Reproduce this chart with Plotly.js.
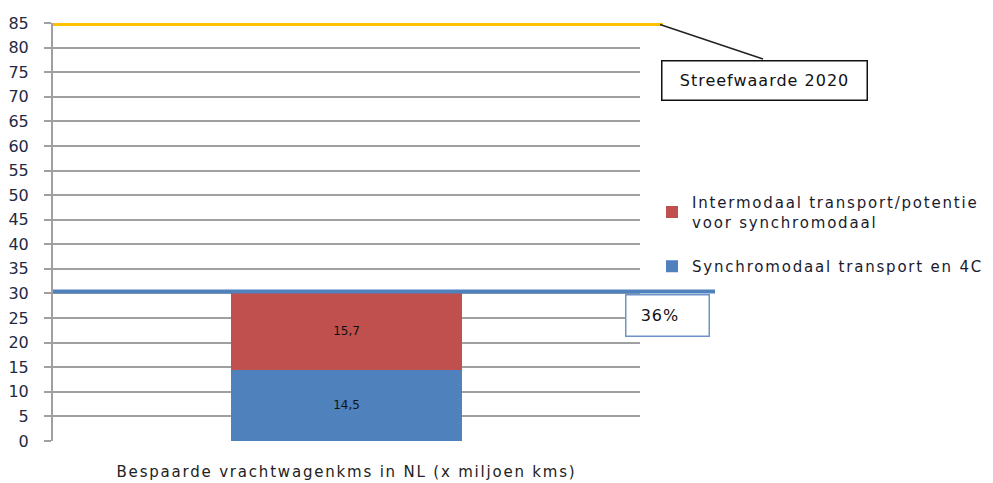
<!DOCTYPE html>
<html><head><meta charset="utf-8">
<script src="https://cdn.plot.ly/plotly-3.0.1.min.js"></script>
<style>body{margin:0;background:#fff}#c{width:993px;height:483px}
.xtick text{letter-spacing:1.8px}
.legendtext{letter-spacing:1.8px}
.annotation-text{letter-spacing:1px}
</style>
</head><body><div id="c"></div>
<script>
var categories = ["Bespaarde vrachtwagenkms in NL (x miljoen kms)"];
var synchroValues = [14.5];
var intermodaalValues = [15.7];
var valueLabels = ["14,5", "15,7"];
var targetValue = [84.7];
var currentLevel = [30.4];
var seriesNames = ["Synchromodaal transport en 4C", "Intermodaal transport/potentie<br>voor synchromodaal"];
var yMax = 85;
var tickVals = [0,5,10,15,20,25,30,35,40,45,50,55,60,65,70,75,80,85];

var font = "'DejaVu Sans', Verdana, sans-serif";
var traces = [
  {type:'bar', x:categories, y:synchroValues, name:seriesNames[0], legendgroup:'b', legendrank:2, marker:{color:'#4f81bd'},
   text:[valueLabels[0]], textposition:'inside', insidetextanchor:'middle',
   textfont:{color:'#111', size:12, family:font}, width:0.395},
  {type:'bar', x:categories, y:intermodaalValues, name:seriesNames[1], legendgroup:'a', legendrank:1, marker:{color:'#c0504d'},
   text:[valueLabels[1]], textposition:'inside', insidetextanchor:'middle',
   textfont:{color:'#111', size:12, family:font}, width:0.395}
];
var W = 587, L = 53, H = 418;
function px(x){ return (x - L)/W; }
var layout = {
  width:993, height:483,
  margin:{l:53, r:353, t:23, b:42, autoexpand:false},
  barmode:'stack', showlegend:true,
  paper_bgcolor:'#fff', plot_bgcolor:'#fff',
  font:{family:font, size:14, color:'#1a1a2e'},
  xaxis:{type:'category', showgrid:false, zeroline:false, showline:false, ticks:'',
    tickfont:{size:15, color:'#222'}, ticklabelstandoff:20, fixedrange:true},
  yaxis:{range:[0,yMax], tickvals:tickVals, showgrid:true, gridcolor:'#a0a0a0', gridwidth:2,
    zeroline:false, showline:true, linecolor:'#a0a0a0', linewidth:2, ticks:'outside', ticklen:7,
    tickcolor:'#a0a0a0', tickwidth:2, tickfont:{size:16, color:'#1f2a44'}, ticklabelstandoff:12},
  legend:{x:px(652), y:(441-186)/H, xanchor:'left', yanchor:'top', traceorder:'grouped', itemwidth:30,
    font:{size:15, color:'#1a1a2e'}, tracegroupgap:22, bgcolor:'rgba(0,0,0,0)'},
  shapes:[
    {type:'line', xref:'paper', yref:'paper', x0:0, x1:px(663), y0:targetValue[0]/yMax, y1:targetValue[0]/yMax,
     line:{color:'#ffc000', width:3}},
    {type:'line', xref:'paper', yref:'paper', x0:px(660), x1:px(763), y0:targetValue[0]/yMax, y1:(441-59)/H,
     line:{color:'#222', width:1.5}},
    {type:'line', xref:'paper', yref:'paper', x0:0, x1:px(715), y0:currentLevel[0]/yMax, y1:currentLevel[0]/yMax,
     line:{color:'#4f81bd', width:4}}
  ],
  annotations:[
    {xref:'paper', yref:'paper', x:px(764), y:(441-80)/H, xanchor:'center', yanchor:'middle',
     text:'Streefwaarde 2020', showarrow:false,
     font:{size:16, color:'#111'}, bordercolor:'#111', borderwidth:1.5, bgcolor:'#fff', width:200, height:34, borderpad:2},
    {xref:'paper', yref:'paper', x:px(667.5), y:(441-315)/H, xanchor:'center', yanchor:'middle',
     text:'&nbsp;&nbsp;36%', showarrow:false, align:'left',
     font:{size:16, color:'#111'}, bordercolor:'#6d93c9', borderwidth:1.5, bgcolor:'#fff', width:78, height:36, borderpad:2}
  ]
};
Plotly.newPlot('c', traces, layout, {displayModeBar:false, staticPlot:true});
</script></body></html>
